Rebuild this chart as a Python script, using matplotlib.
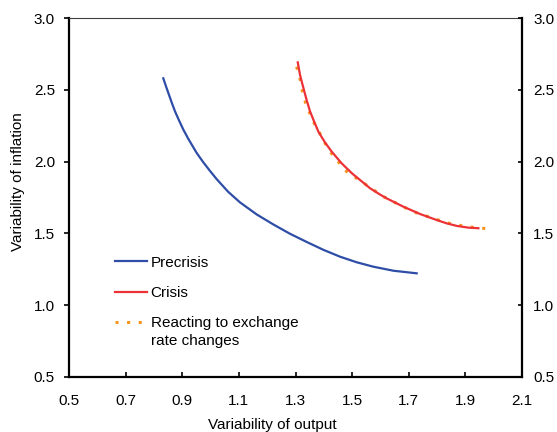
import matplotlib
matplotlib.use("Agg")
import matplotlib.pyplot as plt

plt.rcParams['font.family'] = ['Liberation Sans', 'DejaVu Sans']

# Data
precrisis_x = [0.833, 0.843, 0.853, 0.863, 0.874, 0.889, 0.904, 0.921, 0.939, 0.951, 0.974,
               0.998, 1.022, 1.062, 1.104, 1.163, 1.222, 1.281, 1.340, 1.398, 1.457, 1.516,
               1.575, 1.646, 1.728]
precrisis_y = [2.580, 2.522, 2.466, 2.410, 2.352, 2.285, 2.222, 2.160, 2.100, 2.060, 1.996,
               1.935, 1.877, 1.790, 1.716, 1.632, 1.562, 1.497, 1.440, 1.386, 1.338, 1.299,
               1.268, 1.240, 1.222]

crisis_x = [1.308, 1.316, 1.328, 1.340, 1.351, 1.366, 1.381, 1.404, 1.428, 1.463, 1.499,
            1.563, 1.599, 1.622, 1.681, 1.740, 1.799, 1.834, 1.870, 1.911, 1.946]
crisis_y = [2.691, 2.603, 2.512, 2.424, 2.352, 2.278, 2.208, 2.134, 2.069, 1.988, 1.919,
            1.815, 1.770, 1.744, 1.686, 1.635, 1.593, 1.570, 1.552, 1.540, 1.536]

react_x = [1.304, 1.316, 1.324, 1.336, 1.348, 1.366, 1.378, 1.398, 1.422, 1.451, 1.481,
           1.516, 1.610, 1.716, 1.834, 1.904, 1.985]
react_y = [2.661, 2.575, 2.492, 2.406, 2.348, 2.267, 2.227, 2.150, 2.069, 1.999, 1.930,
           1.884, 1.756, 1.651, 1.574, 1.547, 1.531]

x_ticks = [0.5, 0.7, 0.9, 1.1, 1.3, 1.5, 1.7, 1.9, 2.1]
y_ticks = [0.5, 1.0, 1.5, 2.0, 2.5, 3.0]

labels = ["Precrisis", "Crisis", "Reacting to exchange", "rate changes"]

BLUE = '#2E4DA7'
RED = '#ED3237'
ORANGE = '#F7941D'
FS = 11

fig = plt.figure(figsize=(5.57, 4.32), dpi=100)
ax = fig.add_axes([69/557, 1 - 377/432, (522-69)/557, (377-18)/432])

ax.plot(precrisis_x, precrisis_y, color=BLUE, lw=1.6, label=labels[0], zorder=3,
        solid_joinstyle='round')
ax.plot(react_x, react_y, color=ORANGE, lw=2.2, dashes=(1, 2.8), label=labels[2], zorder=3)
ax.plot(crisis_x, crisis_y, color=RED, lw=1.6, label=labels[1], zorder=4,
        solid_joinstyle='round')

ax.set_xlim(0.5, 2.1)
ax.set_ylim(0.5, 3.0)
ax.set_xticks(x_ticks)
ax.set_xticklabels([f"{v:.1f}" for v in x_ticks], fontsize=FS)
ax.set_yticks(y_ticks)
ax.set_yticklabels([f"{v:.1f}" for v in y_ticks], fontsize=FS)
ax.tick_params(axis='x', direction='in', length=3.6, width=1.2, pad=12)
ax.tick_params(axis='y', direction='out', length=3.6, width=1.2, pad=6.5)

for s in ['left', 'bottom']:
    ax.spines[s].set_linewidth(1.6)
    ax.spines[s].set_color('black')
ax.spines['top'].set_linewidth(0.8)
ax.spines['top'].set_color('#404040')
ax.spines['right'].set_visible(False)

ax2 = ax.twinx()
ax2.set_ylim(0.5, 3.0)
ax2.set_yticks(y_ticks)
ax2.set_yticklabels([f"{v:.1f}" for v in y_ticks], fontsize=FS)
ax2.tick_params(axis='y', direction='in', length=3.2, width=1.2, pad=8)
for s in ['left', 'bottom', 'top']:
    ax2.spines[s].set_visible(False)
ax2.spines['right'].set_linewidth(1.6)
ax2.spines['right'].set_color('black')

ax.set_xlabel("Variability of output", fontsize=FS)
ax.xaxis.set_label_coords((272.6-69)/453, -(424.5-377)/359)
ax.xaxis.label.set_va('center')
ax.set_ylabel("Variability of inflation", fontsize=FS)
ax.yaxis.set_label_coords(-(69-18.5)/453, (377-182)/359)
ax.yaxis.label.set_va('center')

h, l = ax.get_legend_handles_labels()
order = [0, 2, 1]
h = [h[i] for i in order]
l = [l[i] for i in order]
leg = ax.legend(h, l, loc='upper left', bbox_to_anchor=((115-69)/453, (377-255.7)/359),
                frameon=False, fontsize=FS, borderpad=0, borderaxespad=0,
                handlelength=2.07, handletextpad=0.26, labelspacing=1.06)
ax.annotate(labels[3], xy=(0, 0), xycoords=leg.get_texts()[2], xytext=(0, -2.8),
            textcoords='offset points', ha='left', va='top', fontsize=FS, zorder=10)

fig.savefig("out.png", dpi=100)
